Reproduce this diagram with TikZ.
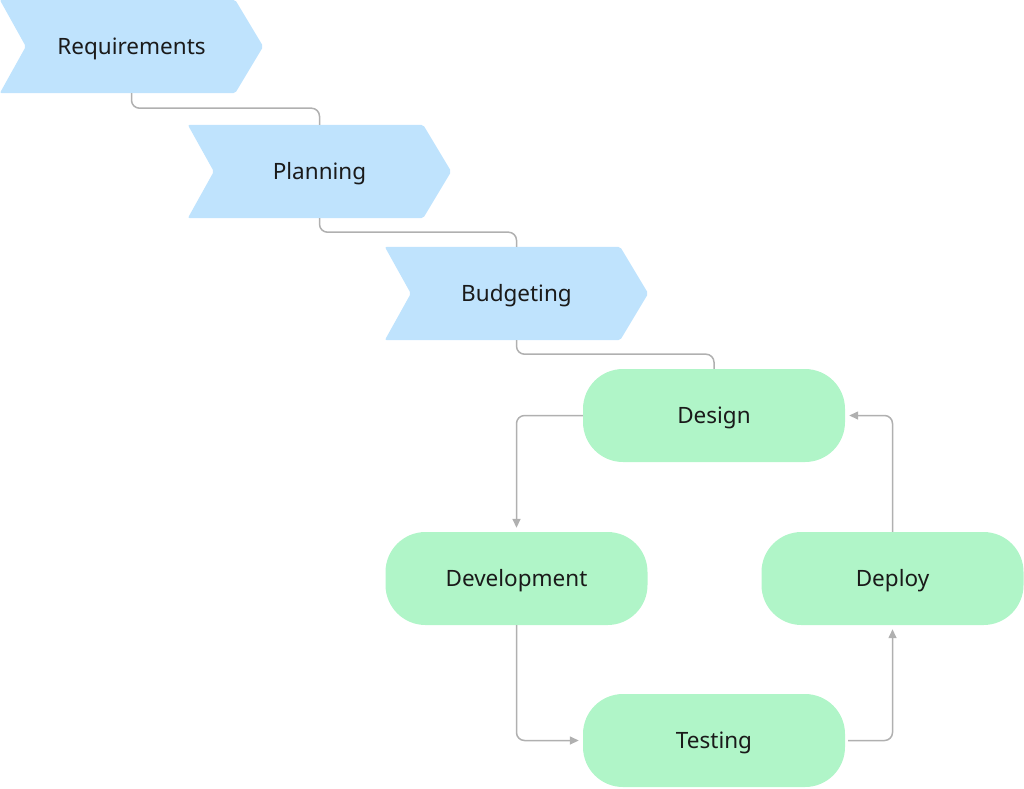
\documentclass[tikz,border=0pt]{standalone}
\usepackage{fontspec}
\setmainfont{Noto Sans}
\usetikzlibrary{arrows.meta,calc}
\definecolor{chevblue}{HTML}{BFE3FD}
\definecolor{boxgreen}{HTML}{B0F5C8}
\definecolor{linegray}{HTML}{B0B0B0}
\definecolor{txt}{HTML}{1A1A1A}
\tikzset{
  lbl/.style={text=txt, font=\fontsize{22.5}{25}\selectfont, yshift=-2pt},
  chev/.style={minimum width=263pt, minimum height=93pt, inner sep=0pt},
  gbox/.style={fill=boxgreen, rounded corners=40pt, minimum width=262pt, minimum height=93pt, inner sep=0pt},
  link/.style={draw=linegray, line width=1.5pt, rounded corners=8pt},
  flow/.style={link, -{Triangle[length=9pt,width=8pt]}, shorten >=4pt},
}
\newcommand{\chevpath}[1]{%
  \fill[chevblue, rounded corners=2pt]
    (#1.north west) -- ($(#1.north east)+(-28,0)$) -- (#1.east) -- ($(#1.south east)+(-28,0)$)
    -- (#1.south west) -- ($(#1.west)+(26,0)$) -- cycle;}
\begin{document}
\begin{tikzpicture}[x=1pt,y=-1pt]
\useasboundingbox (0,0) rectangle (1024,788);
% chevron nodes (positions)
\node[chev] (req) at (131.5,46.5) {};
\node[chev] (plan) at (319.5,171.5) {};
\node[chev] (bud) at (516.5,293.5) {};
\chevpath{req}\chevpath{plan}\chevpath{bud}
\node[lbl] (reqt) at (req) {Requirements};
\node[lbl] (plant) at (plan) {Planning};
\node[lbl] (budt) at (bud) {Budgeting};
% green boxes
\node[gbox] (des) at (714,415.5) {};
\node[gbox] (dev) at (516.5,578.5) {};
\node[gbox] (dep) at (892.5,578.5) {};
\node[gbox] (tst) at (714,740.5) {};
\node[lbl] (dest) at (des) {Design};
\node[lbl] (devt) at (dev) {Development};
\node[lbl] (dept) at (dep) {Deploy};
\node[lbl] (tstt) at (tst) {Testing};
% connectors
\draw[link] (req.south) -- ++(0,15) -| (plan.north);
\draw[link] (plan.south) -- ++(0,14) -| (bud.north);
\draw[link] (bud.south) -- ++(0,14) -| (des.north);
\draw[flow] (des.west) -| (dev.north);
\draw[flow] (dev.south) |- (tst.west);
\draw[flow] ($(tst.east)+(3,0)$) -| (dep.south);
\draw[flow] (dep.north) |- (des.east);
\end{tikzpicture}
\end{document}
